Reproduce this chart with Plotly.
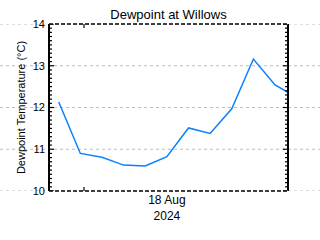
import plotly.graph_objects as go

times = ["2024-08-17 20:30", "2024-08-17 23:30", "2024-08-18 02:30", "2024-08-18 05:30",
         "2024-08-18 08:30", "2024-08-18 11:30", "2024-08-18 14:30", "2024-08-18 17:30",
         "2024-08-18 20:30", "2024-08-18 23:30", "2024-08-19 02:30", "2024-08-19 05:30"]
dewpoint = [12.13, 10.90, 10.81, 10.62, 10.60, 10.82, 11.51, 11.38, 11.97, 13.16, 12.54, 12.24]

x_range = ["2024-08-17 19:09", "2024-08-19 04:18"]
y_range = [10, 14]
y_ticks = [10, 11, 12, 13, 14]
y_minor_per_major = 10
date_tick_at = "2024-08-18 00:00"
date_label_at = "2024-08-18 11:30"
date_label = "18 Aug<br>2024"
title = "Dewpoint at Willows"
y_title = "Dewpoint Temperature (°C)"

FONT = "Liberation Sans"
W, H = 320, 240
L, R, T, B = 49, 288, 24, 191.3
PW, PH = R - L, B - T

fig = go.Figure()
fig.add_trace(go.Scatter(x=times, y=dewpoint, mode="lines",
                         line=dict(color="#0a80ff", width=1.5), showlegend=False))

shapes = []
# dotted grid across the whole figure width
for v in y_ticks:
    shapes.append(dict(type="line", xref="paper", x0=0, x1=1, yref="y", y0=v, y1=v,
                       line=dict(color="#bdbdbd", width=1, dash="dot"), layer="below"))
# solid left/right frame
for xd in (0, 1):
    shapes.append(dict(type="line", xref="x domain", x0=xd, x1=xd, yref="y domain",
                       y0=0, y1=1, line=dict(color="black", width=2), layer="above"))
# dashed top/bottom frame
for yd in (0, 1):
    shapes.append(dict(type="line", xref="x domain", x0=0, x1=1, yref="y domain",
                       y0=yd, y1=yd, line=dict(color="white", width=1.5), layer="above"))
    shapes.append(dict(type="line", xref="x domain", x0=0, x1=1, yref="y domain",
                       y0=yd, y1=yd, line=dict(color="black", width=1.5, dash="4px,2px"),
                       layer="above"))
# y ticks (major + minor) on both sides, pointing inward
n_minor = int(round((y_range[1] - y_range[0]) * y_minor_per_major))
for i in range(n_minor + 1):
    v = y_range[0] + i / y_minor_per_major
    major = any(abs(v - t) < 1e-9 for t in y_ticks)
    ln = (5 if major else 3) / PW
    for x0, x1 in ((0, ln), (1 - ln, 1)):
        shapes.append(dict(type="line", xref="x domain", x0=x0, x1=x1, yref="y",
                           y0=v, y1=v, line=dict(color="black", width=1.2), layer="above"))
# single x tick at start of 18 Aug, bottom and top
tl = 4 / PH
for y0, y1 in ((0, tl), (1 - tl, 1)):
    shapes.append(dict(type="line", xref="x", x0=date_tick_at, x1=date_tick_at,
                       yref="y domain", y0=y0, y1=y1,
                       line=dict(color="black", width=1.2), layer="above"))

fig.update_layout(
    width=W, height=H,
    margin=dict(l=0, r=0, t=T, b=H - B, pad=0),
    paper_bgcolor="white", plot_bgcolor="white",
    font=dict(family=FONT, size=11, color="black"),
    shapes=shapes,
    title=dict(text=title, x=(L + R) / 2 / W, xanchor="center",
               y=1 - 14 / H, yanchor="middle", yref="container",
               font=dict(family=FONT, size=13, color="black")),
    xaxis=dict(domain=[L / W, R / W], range=x_range, type="date",
               tickvals=[date_label_at], ticktext=[date_label], ticks="",
               showgrid=False, showline=False, zeroline=False,
               tickfont=dict(family=FONT, size=12, color="black")),
    yaxis=dict(range=y_range, tickvals=y_ticks, anchor="x",
               showgrid=False, showline=False, ticks="", zeroline=False,
               ticklabelstandoff=3,
               tickfont=dict(family=FONT, size=11, color="black"),
               title=dict(text=y_title, standoff=4,
                          font=dict(family=FONT, size=11, color="black"))),
)

fig.write_html("out.html")
